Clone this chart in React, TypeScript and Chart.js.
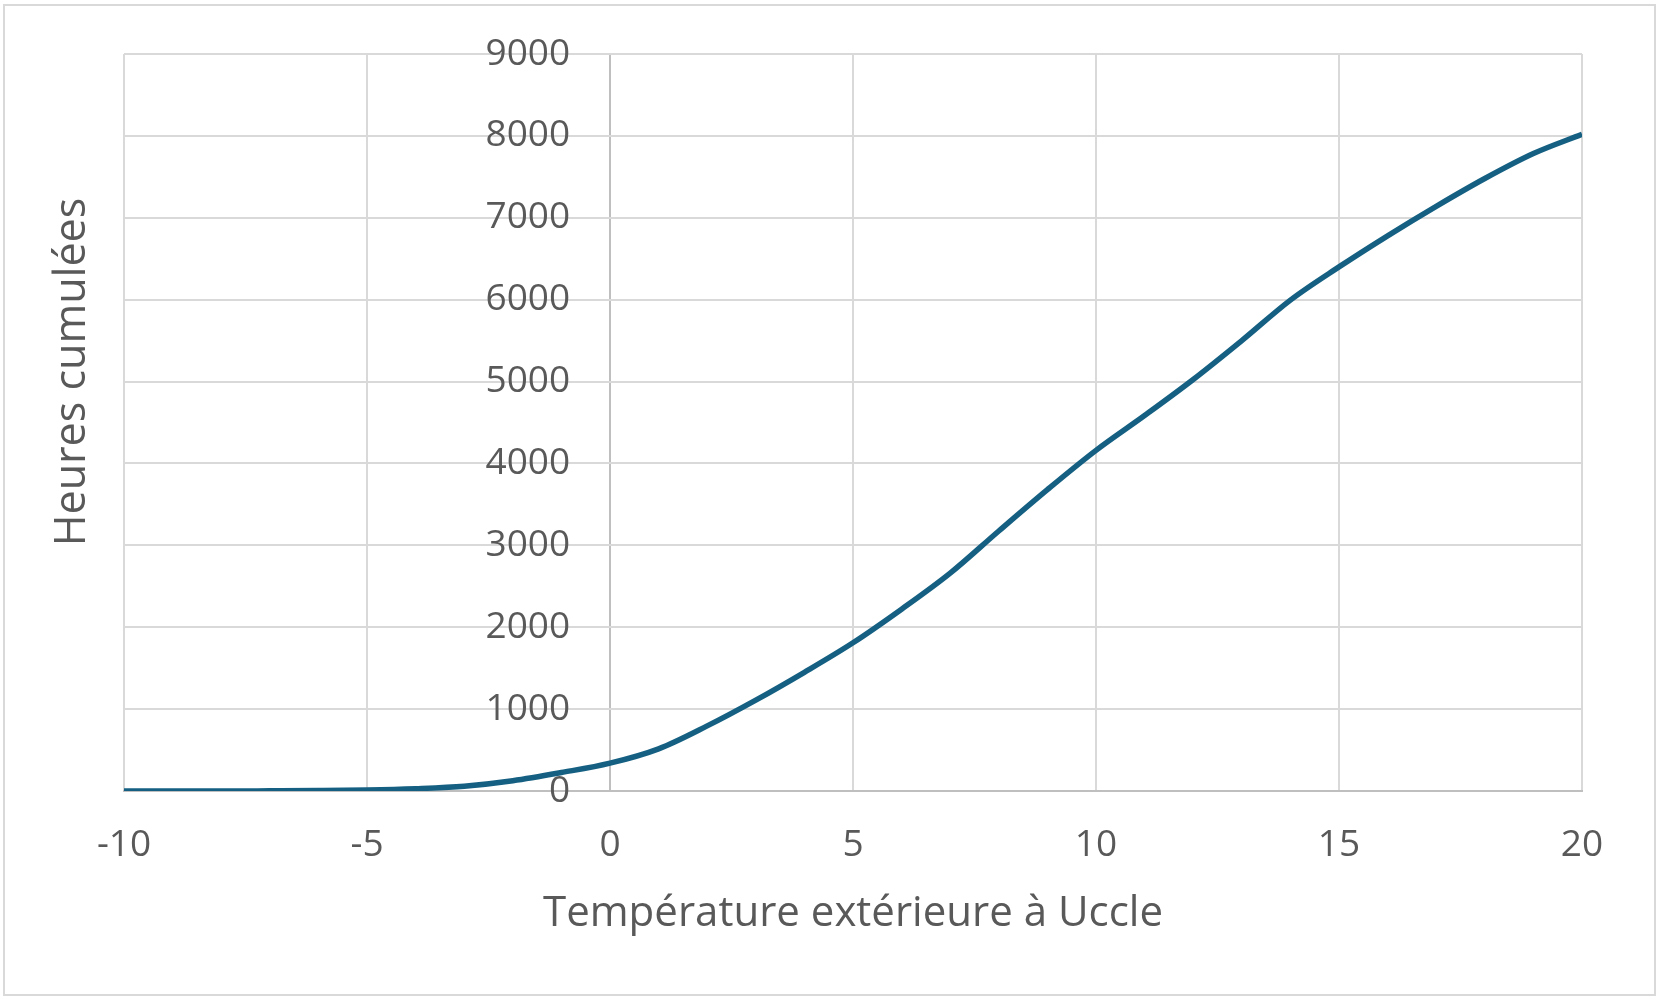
import React, { useEffect, useRef } from "react";
import { Chart, registerables } from "chart.js";

Chart.register(...registerables);

// ---- Data ----
const temperatures = [
  -10, -9, -8, -7, -6, -5, -4, -3, -2, -1, 0, 1, 2, 3, 4, 5, 6, 7, 8, 9, 10,
  11, 12, 13, 14, 15, 16, 17, 18, 19, 20,
];
const cumulativeHours = [
  0, 0, 0, 2, 5, 12, 28, 58, 125, 225, 340, 515, 795, 1110, 1450, 1810, 2220,
  2660, 3175, 3680, 4160, 4585, 5025, 5500, 5995, 6400, 6780, 7140, 7480, 7785,
  8020,
];
const xRange = [-10, 20];
const xStep = 5;
const yRange = [0, 9000];
const yStep = 1000;

const X_TITLE = "Température extérieure à Uccle";
const Y_TITLE = "Heures cumulées";

// ---- Style ----
const W = 1663;
const H = 1003;
const FONT = '"Open Sans", "Liberation Sans", sans-serif';
const TEXT = "#595959";
const GRID = "#d9d9d9";
const AXIS = "#bfbfbf";
const LINE = "#156082";

const yTitlePlugin = {
  id: "yTitleText",
  afterDraw(chart: any) {
    const { ctx, chartArea } = chart;
    ctx.save();
    ctx.translate(chartArea.left - 51, chartArea.top + 318);
    ctx.rotate(-Math.PI / 2);
    ctx.font = `43px ${FONT}`;
    ctx.fillStyle = TEXT;
    ctx.textAlign = "center";
    ctx.textBaseline = "middle";
    ctx.fillText(Y_TITLE, 0, 0);
    ctx.restore();
  },
};

export default function App() {
  const canvasRef = useRef<HTMLCanvasElement | null>(null);

  useEffect(() => {
    let chart: Chart | null = null;
    let cancelled = false;
    const build = () => {
      if (cancelled || !canvasRef.current) return;
      chart = new Chart(canvasRef.current, {
        type: "line",
        data: {
          datasets: [
            {
              data: temperatures.map((t, i) => ({ x: t, y: cumulativeHours[i] })),
              borderColor: LINE,
              backgroundColor: LINE,
              borderWidth: 5.5,
              pointRadius: 0,
              pointHoverRadius: 0,
              cubicInterpolationMode: "monotone",
              fill: false,
            },
          ],
        },
        options: {
          responsive: false,
          animation: false,
          events: [],
          layout: { padding: { left: 124, right: 81, top: 54, bottom: 0 } },
          plugins: {
            legend: { display: false },
            tooltip: { enabled: false },
            title: { display: false },
          },
          scales: {
            x: {
              type: "linear",
              position: "bottom",
              min: xRange[0],
              max: xRange[1],
              ticks: {
                stepSize: xStep,
                padding: 32,
                color: TEXT,
                maxRotation: 0,
                font: { family: FONT, size: 37 },
                callback: (v: any) => String(v),
              },
              grid: {
                color: (c: any) => (c.tick && c.tick.value === 0 ? AXIS : GRID),
                lineWidth: 2,
                drawTicks: false,
              },
              border: { display: true, color: AXIS, width: 2 },
              title: {
                display: true,
                text: X_TITLE,
                color: TEXT,
                font: { family: FONT, size: 42 },
                padding: { top: 0, bottom: 64 },
              },
              afterFit: (s: any) => {
                s.height = 212;
              },
            },
            y: {
              type: "linear",
              position: { x: -0.82 } as any,
              min: yRange[0],
              max: yRange[1],
              ticks: {
                stepSize: yStep,
                padding: 0,
                color: TEXT,
                font: { family: FONT, size: 37 },
                callback: (v: any) => String(v),
              },
              grid: {
                color: (c: any) => (c.tick && c.tick.value === 0 ? AXIS : GRID),
                lineWidth: 2,
                drawTicks: false,
              },
              border: { display: false },
            },
          },
        },
        plugins: [yTitlePlugin],
      } as any);
    };
    const fontsReady = (document as any).fonts
      ? Promise.all([
          (document as any).fonts.load(`37px "Open Sans"`),
          (document as any).fonts.load(`43px "Open Sans"`),
        ]).catch(() => null)
      : Promise.resolve(null);
    fontsReady.then(build);
    return () => {
      cancelled = true;
      if (chart) chart.destroy();
    };
  }, []);

  return (
    <div
      style={{
        position: "absolute",
        left: 0,
        top: 0,
        width: W,
        height: H,
        background: "#ffffff",
      }}
    >
      <div
        style={{
          position: "absolute",
          left: 3,
          top: 4,
          width: 1653,
          height: 992,
          border: `2px solid ${GRID}`,
          boxSizing: "border-box",
        }}
      />
      <canvas
        ref={canvasRef}
        width={W}
        height={H}
        style={{ position: "absolute", left: 0, top: 0, width: W, height: H }}
      />
    </div>
  );
}
